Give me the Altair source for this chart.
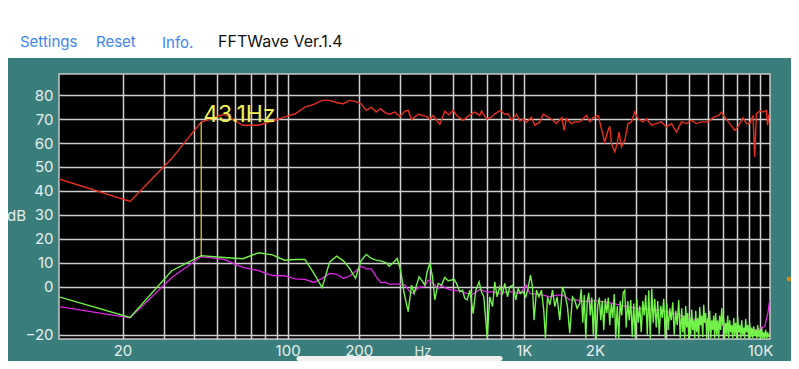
import altair as alt
import pandas as pd

# ---------------- data ----------------
red_hz = [10.77, 21.53, 32.3, 43.07, 53.83, 64.6, 75.37, 86.13, 96.9, 107.7, 118.4, 129.2, 140.0, 150.7,
          161.5, 172.3, 183.0, 193.8, 204.6, 215.3, 226.1, 236.9, 247.6, 258.4, 269.2, 284.6, 298.7, 313.6,
          323.9, 334.9, 357, 387, 400, 413, 441, 463, 481, 502, 520, 553, 580, 620, 651, 662, 695, 730, 754,
          797, 831, 858, 887, 931, 962, 993, 1027, 1078, 1113, 1169, 1207, 1267, 1330, 1375, 1450, 1481, 1516,
          1592, 1644, 1726, 1782, 1843, 1903, 1965, 2063, 2132, 2202, 2274, 2312, 2350, 2428, 2483, 2532, 2591,
          2676, 2763, 2856, 2949, 3045, 3197, 3305, 3470, 3644, 3825, 4017, 4218, 4429, 4650, 4882, 5126, 5382,
          5649, 6025, 6380, 6700, 6866, 7091, 7444, 7816, 8072, 8475, 8760, 9046, 9340, 9497, 9656, 9970,
          10297, 10644, 10760, 10916]
red_db = [45.0, 35.6, 53.5, 68.7, 72.0, 67.4, 67.4, 69.2, 70.8, 72.2, 75.0, 76.1, 77.8, 77.8,
          76.8, 76.4, 77.8, 77.4, 76.4, 73.6, 75.0, 72.9, 74.3, 72.7, 72.0, 72.9, 71.1, 73.3,
          73.6, 69.8, 72.0, 71.1, 69.9, 71.5, 67.8, 73.3, 71.8, 73.6, 71.5, 69.5, 71.1, 72.9, 71.5, 73.3, 70.1, 70.8, 72.2,
          73.6, 72.0, 72.2, 69.5, 72.0, 69.2, 70.1, 68.8, 70.8, 67.4, 68.8, 72.0, 70.8, 69.5, 68.1, 70.6, 65.3, 70.1,
          68.1, 68.8, 68.8, 70.1, 71.5, 68.8, 70.6, 71.5, 66.0, 60.4, 65.3, 67.0, 59.7, 56.3, 59.7, 64.6, 58.3,
          61.1, 68.1, 68.8, 72.9, 70.1, 68.8, 70.1, 67.4, 68.1, 68.8, 66.7, 68.1, 64.6, 68.8, 68.1, 69.5, 68.1,
          68.8, 68.8, 70.8, 71.5, 72.9, 70.8, 68.1, 65.3, 66.7, 70.6, 68.1, 68.1, 71.5, 54.2, 72.2, 73.3,
          72.9, 73.6, 67.4, 72.0]

green_hz = [10.77, 21.53, 32.3, 43.07, 53.83, 64.6, 75.37, 86.13, 96.9, 107.7, 118.4, 129.2, 140.0, 150.7,
            161.5, 172.3, 183.0, 193.8, 204.6, 215.3, 226.1, 236.9, 247.6, 262, 269, 279.8, 291.1, 300.8,
            310.6, 323.9, 334.7, 343.3, 351.4, 360.4, 369, 381, 389.8, 400.1, 410.7, 420, 433.8, 448.4, 463,
            478.1, 494.2, 505.4, 518.9, 535.9, 550.2, 562.6, 575.5, 590.8, 610.1, 626.4, 646.8, 662.2, 677.2,
            699.9, 717.9, 737, 753.7, 770.9, 791.4, 812.5, 830.9, 853.1, 872.4, 900.9, 924.9, 945.9, 968.3,
            993.2, 1019.6, 1042.6, 1067.3, 1088.2, 1105.4, 1131.6, 1160, 1187.5, 1214.5, 1235, 1259.8, 1289,
            1323.3, 1353.3, 1383.2, 1420, 1457.8, 1490.9, 1530.4, 1565, 1606.6, 1643.1, 1681.3, 1726,
            1751, 1777, 1803, 1830, 1857, 1884, 1912, 1940, 1969, 1998, 2028, 2057, 2088, 2118, 2149, 2181,
            2213, 2245, 2278, 2312, 2346, 2380, 2415, 2451, 2487, 2523, 2560, 2598, 2636, 2675, 2715, 2754,
            2795, 2837, 2878, 2920, 2964, 3007, 3051, 3097, 3142, 3189, 3236, 3283, 3332, 3381, 3431, 3481,
            3532, 3584, 3637, 3691, 3745, 3800, 3856, 3913, 3970, 4029, 4088, 4148, 4209, 4271, 4334, 4398,
            4462, 4528, 4595, 4663, 4709, 4755, 4801, 4848, 4896, 4944, 4992, 5041, 5090, 5140, 5191, 5242,
            5293, 5344, 5397, 5450, 5503, 5557, 5611, 5666, 5722, 5778, 5834, 5891, 5949, 6007, 6066, 6125,
            6185, 6246, 6307, 6369, 6431, 6494, 6558, 6622, 6687, 6752, 6818, 6885, 6953, 7021, 7089, 7159,
            7229, 7300, 7371, 7443, 7516, 7590, 7664, 7739, 7815, 7891, 7969, 8047, 8126, 8205, 8285, 8367,
            8449, 8531, 8615, 8699, 8784, 8870, 8957, 9045, 9134, 9223, 9313, 9405, 9497, 9590, 9684, 9779,
            9874, 9971, 10069, 10167, 10267, 10367, 10469, 10571, 10675, 10779, 10885]
green_db = [-4.2, -12.8, 6.7, 13.0, 12.2, 11.7, 14.2, 13.3, 11.1, 11.4, 11.4, 5.6, -0.3, 10.4,
            12.8, 10.8, 7.7, 3.5, 10.8, 13.5, 11.8, 11.1, 10.8, 10.0, 8.6, 10.0, 11.8, 7.0,
            -2.1, -10.4, 0.7, -2.8, 0.7, 4.2, 2.8, 0.7, 6.3, 9.7, 4.2, -5.5, 1.4, 0.7, 3.9,
            2.5, 2.8, 3.3, 1.4, -2.1, -1.4, -4.8, -5.5, -1.4, -11.1, -1.4, 2.1, -2.1, -4.2,
            -21.4, -4.2, -8.3, 2.1, -4.2, 0.0, -2.8, 1.4, -4.2, 0.0, 0.7, -5.5, -0.7, -2.8,
            -2.1, -4.2, -0.7, 4.9, 0.0, -13.9, -1.4, -4.2, -1.4, -9.7, -21.4, -4.2, -7.6,
            -1.4, -8.3, -4.2, -13.9, 0.0, -2.8, -8.3, -19.4, -4.2, -5.5, -9.0, -6.9,
            -1.0, -15, -3.5, -21.5, -6, -2.5, -12, -4.5, -20, -5.5, -21.5, -8, -4.5, -14, -6, -18,
            -5, -11, -4.5, -16, -7, -13, -3, -21.5, -8, -21.5, -6, -12, -2.5, -1.5, -17, -6,
            -14, -5.5, -21, -7, -21.5, -5, -15, -8, -19, -6, -12, -3.5, -20, -1.5, -21.5, -0.8,
            -15, -5, -17, -6, -20, -8, -13, -5, -21.5, -7, -18, -9, -14, -6.5, -20, -10,
            -16, -5.5, -21.5, -9, -19, -12, -21.5, -8, -17, -11, -21.5, -13, -20, -9.5, -18, -14,
            -21.5, -10, -19, -13, -21.5, -8.5, -16, -12, -21, -7.5, -15, -11, -21.5, -13, -19, -10,
            -21.5, -14, -18, -12, -21.5, -11, -20, -14, -21.5, -12, -18, -9, -16, -13, -21.5, -15,
            -20, -12, -21.5, -14, -19, -16, -21.5, -13, -20, -15, -21.5, -12.5, -19, -16, -21.5, -14,
            -20, -17, -21.5, -13.5, -19, -16, -21.5, -15, -21, -17, -21.5, -16.5, -20.5, -18, -21.5, -16,
            -21, -18, -21.5, -17, -21.5, -19, -21.5, -18, -21.5, -19, -21]

magenta_hz = [10.77, 21.53, 32.3, 43.07, 53.83, 64.6, 75.37, 86.13, 96.9, 107.7, 118.4, 129.2, 140.0, 150.7,
              161.5, 172.3, 183.0, 193.8, 204.6, 215.3, 226.1, 236.9, 247.6, 258.4, 269.2, 298.7, 313.6,
              329.2, 339.5, 357, 381, 393, 407, 420, 434, 448, 470, 494, 536, 573, 610, 651, 695, 741, 791,
              845, 901, 962, 1027, 1060, 1132, 1207, 1289, 1375, 1468, 1565, 1671, 1782, 2031, 2312, 2636,
              3007, 3414, 3890, 4429, 5041, 5740, 6537, 7443, 8475, 9656, 10469, 10810, 10990]
magenta_db = [-8.3, -13.0, 3.9, 12.6, 11.4, 8.1, 6.7, 4.7, 4.6, 3.3, 3.1, 1.8, 3.5, 5.6,
              5.2, 3.5, 4.5, 6.5, 8.6, 7.5, 7.5, 4.2, 1.8, 1.8, 1.1, 1.1, 0.7,
              -2.1, -2.8, -0.3, 0.0, 2.8, 2.1, 0.7, -0.7, 0.7, -0.7, -1.4, -1.7, -2.8, -3.1, -1.1, -2.1, -2.1, -2.8,
              -2.1, -2.1, -2.8, 0.7, -2.8, -3.1, -3.5, -4.2, -3.5, -3.5, -5.5, -5.5, -6.2, -5.8, -6.6, -8.0,
              -9.0, -9.4, -10.0, -11.4, -13.2, -14.6, -15.8, -16.6, -17.7, -18.0, -16.6, -10.8, -5.5]

peak_hz = [43.07]
peak_top_db = [68.7]
peak_bottom_db = [12.6]
peak_label = ["43.1Hz"]

grid_hz = [20, 30, 40, 50, 60, 70, 80, 90, 100, 200, 300, 400, 500, 600, 700, 800, 900,
           1000, 2000, 3000, 4000, 5000, 6000, 7000, 8000, 9000, 10000]
grid_db = [80, 70, 60, 50, 40, 30, 20, 10, 0, -20]
menu_items = ["Settings", "Reset", "Info."]
app_title = "FFTWave Ver.1.4"
x_title = "Hz"

# ---------------- chart ----------------
FONT = "Inter"
W, H = 711, 265
PAD = {"left": 51, "top": 66, "right": 21, "bottom": 22}

xscale = alt.Scale(type="log", domain=[10.7666, 11025], nice=False)
yscale = alt.Scale(domain=[-21.8, 88.8], nice=False, zero=False)

label_expr = ("datum.value==20?'20':datum.value==100?'100':datum.value==200?'200':"
              "datum.value==1000?'1K':datum.value==2000?'2K':datum.value==10000?'10K':''")

xaxis = alt.Axis(values=grid_hz, labelExpr=label_expr, title=None, grid=True, ticks=False, domain=False,
                 labelFlush=False, labelOverlap=False, labelPadding=4, labelBaseline="top")
yaxis = alt.Axis(values=grid_db, title="dB", grid=True, ticks=False, domain=False, labelPadding=6,
                 labelBaseline="middle", titleAngle=0, titleX=-43, titleY=141.7, titleAlign="center",
                 titleBaseline="middle")

X = alt.X("hz:Q", scale=xscale, axis=xaxis)
Y = alt.Y("db:Q", scale=yscale, axis=yaxis)


def series(hz, db, color, width):
    df = pd.DataFrame({"hz": hz, "db": db})
    return alt.Chart(df).mark_line(color=color, strokeWidth=width, clip=True).encode(x=X, y=Y)


red = series(red_hz, red_db, "#e8301e", 1.4)
magenta = series(magenta_hz, magenta_db, "#e028e6", 1.3)
green = series(green_hz, green_db, "#72f24a", 1.4)

peak_df = pd.DataFrame({"hz": peak_hz, "db": peak_top_db, "db2": peak_bottom_db, "label": peak_label})
peak_rule = alt.Chart(peak_df).mark_rule(color="#d8d840", strokeWidth=1.2).encode(
    x=X, y=Y, y2="db2:Q")
peak_text = alt.Chart(peak_df).mark_text(color="#f2f055", font=FONT, fontSize=23, align="left",
                                         baseline="alphabetic", dx=2).encode(
    x=X, y=Y, text="label:N")

# UI decoration (top white band, menu texts, home indicator, side dot)
one = pd.DataFrame({"a": [0]})
band = alt.Chart(one).mark_rect(color="white").encode(
    x=alt.value(-60), x2=alt.value(W + 40), y=alt.value(-70), y2=alt.value(-16))
menu_x = [-39, 37, 103]
menu_y = [-27.3, -27.3, -26.3]
menu = [alt.Chart(one).mark_text(
    text=t, color="#3d86f2", font=FONT, fontSize=15, align="left", baseline="alphabetic").encode(
    x=alt.value(mx), y=alt.value(my)) for t, mx, my in zip(menu_items, menu_x, menu_y)]
title = alt.Chart(one).mark_text(
    text=app_title, color="#111111", font=FONT, fontSize=16, align="left", baseline="alphabetic").encode(
    x=alt.value(159), y=alt.value(-27.3))
homebar = alt.Chart(one).mark_rule(color="#f0f0f0", strokeWidth=5, strokeCap="round").encode(
    x=alt.value(240), x2=alt.value(441), y=alt.value(284.5))
hz_text = alt.Chart(one).mark_text(
    text=x_title, color="#e6eeee", font=FONT, fontSize=13, align="center", baseline="alphabetic").encode(
    x=alt.value(364), y=alt.value(282))
dot = alt.Chart(one).mark_point(filled=True, color="#d4891e", size=22, opacity=1).encode(
    x=alt.value(730), y=alt.value(205))

chart = alt.layer(red, magenta, green, peak_rule, peak_text, band, *menu, title, homebar, hz_text, dot).properties(
    width=W, height=H, padding=PAD, autosize=alt.AutoSizeParams(type="none"), background="#3a7e7c"
).configure_view(fill="black", stroke="#c8c8c8", strokeWidth=1.5).configure_axis(
    gridColor="#cfcfcf", gridWidth=1.5, gridOpacity=1, labelColor="#e6eeee", labelFont=FONT, labelFontSize=15,
    titleColor="#e6eeee", titleFont=FONT, titleFontSize=15, titleFontWeight="normal")

chart.save("out.html", embed_options={"renderer": "svg", "actions": False})
